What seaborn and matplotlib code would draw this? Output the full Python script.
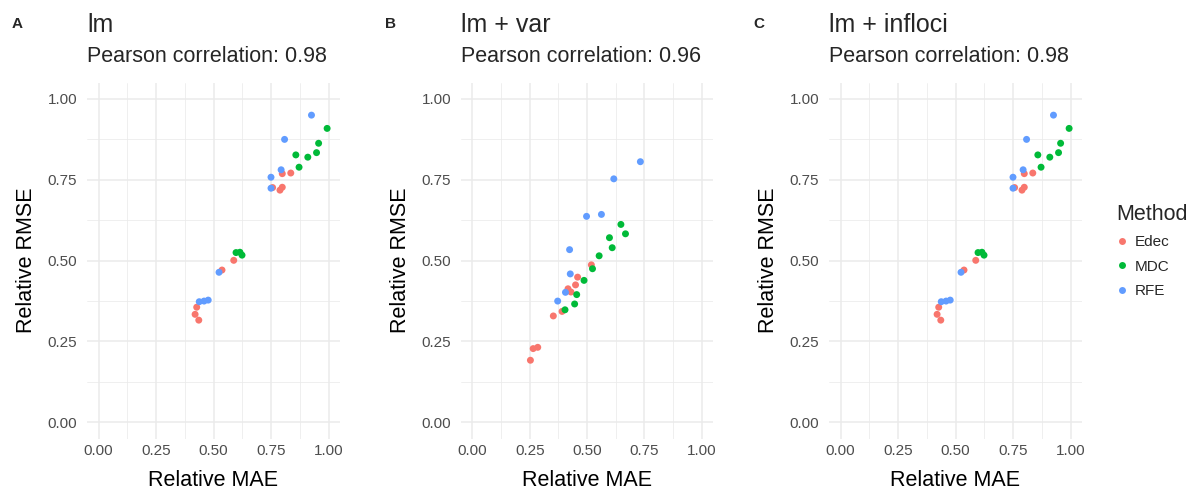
import matplotlib
matplotlib.use("Agg")
import matplotlib.pyplot as plt
import seaborn as sns
import pandas as pd
from matplotlib.ticker import FixedLocator

# ---------------- data ----------------
methods = ["Edec", "MDC", "RFE"]
palette = ["#F8766D", "#00BA38", "#619CFF"]

panel_tags = ["A", "B", "C"]
panel_titles = ["lm", "lm + var", "lm + infloci"]
panel_subtitles = ["Pearson correlation: 0.98", "Pearson correlation: 0.96", "Pearson correlation: 0.98"]

# lm
lm_method = ["Edec"] * 10 + ["MDC"] * 9 + ["RFE"] * 9
lm_mae = [0.799, 0.836, 0.757, 0.799, 0.789, 0.588, 0.537, 0.427, 0.420, 0.436,
          0.994, 0.957, 0.858, 0.910, 0.948, 0.872, 0.598, 0.615, 0.624,
          0.926, 0.809, 0.794, 0.750, 0.750, 0.524, 0.438, 0.459, 0.477]
lm_rmse = [0.769, 0.771, 0.726, 0.727, 0.718, 0.501, 0.471, 0.356, 0.334, 0.316,
           0.909, 0.863, 0.827, 0.820, 0.834, 0.789, 0.525, 0.526, 0.517,
           0.950, 0.875, 0.781, 0.758, 0.724, 0.464, 0.373, 0.375, 0.378]

# lm + var
var_method = ["Edec"] * 10 + ["MDC"] * 10 + ["RFE"] * 8
var_mae = [0.519, 0.459, 0.450, 0.417, 0.430, 0.391, 0.353, 0.265, 0.285, 0.253,
           0.648, 0.668, 0.598, 0.610, 0.553, 0.524, 0.487, 0.455, 0.446, 0.404,
           0.733, 0.617, 0.563, 0.498, 0.424, 0.427, 0.406, 0.372]
var_rmse = [0.487, 0.449, 0.425, 0.413, 0.403, 0.343, 0.329, 0.228, 0.232, 0.192,
            0.612, 0.583, 0.571, 0.540, 0.515, 0.475, 0.439, 0.395, 0.366, 0.348,
            0.806, 0.753, 0.643, 0.637, 0.534, 0.459, 0.402, 0.375]

# lm + infloci
inf_method = ["Edec"] * 10 + ["MDC"] * 9 + ["RFE"] * 9
inf_mae = [0.799, 0.836, 0.757, 0.799, 0.789, 0.588, 0.537, 0.427, 0.420, 0.436,
           0.994, 0.957, 0.858, 0.910, 0.948, 0.872, 0.598, 0.615, 0.624,
           0.926, 0.809, 0.794, 0.750, 0.750, 0.524, 0.438, 0.459, 0.477]
inf_rmse = [0.769, 0.771, 0.726, 0.727, 0.718, 0.501, 0.471, 0.356, 0.334, 0.316,
            0.909, 0.863, 0.827, 0.820, 0.834, 0.789, 0.525, 0.526, 0.517,
            0.950, 0.875, 0.781, 0.758, 0.724, 0.464, 0.373, 0.375, 0.378]

tick_values = [0.0, 0.25, 0.5, 0.75, 1.0]
tick_labels = ["0.00", "0.25", "0.50", "0.75", "1.00"]
minor_values = [0.125, 0.375, 0.625, 0.875]

# ---------------- style ----------------
sns.set_theme(style="white")
plt.rcParams["font.family"] = ["Liberation Sans", "DejaVu Sans"]

W, H = 1200, 492
fig = plt.figure(figsize=(W / 100, H / 100), dpi=100)

panel_px = [(87, 340), (461, 713), (829, 1082)]
top_px, bot_px = 82.8, 438.5

datasets = [
    pd.DataFrame({"mae": lm_mae, "rmse": lm_rmse, "Method": lm_method}),
    pd.DataFrame({"mae": var_mae, "rmse": var_rmse, "Method": var_method}),
    pd.DataFrame({"mae": inf_mae, "rmse": inf_rmse, "Method": inf_method}),
]

grid_col = "#EBEBEB"
axes = []
for i, (df, (l, r)) in enumerate(zip(datasets, panel_px)):
    ax = fig.add_axes([l / W, 1 - bot_px / H, (r - l) / W, (bot_px - top_px) / H])
    axes.append(ax)
    sns.scatterplot(data=df, x="mae", y="rmse", hue="Method", hue_order=methods,
                    palette=palette, s=25, linewidth=0, ax=ax, legend=(i == 2), zorder=3)
    ax.set_xlim(-0.05, 1.05)
    ax.set_ylim(-0.05, 1.05)
    ax.set_xticks(tick_values)
    ax.set_xticklabels(tick_labels)
    ax.set_yticks(tick_values)
    ax.set_yticklabels(tick_labels)
    ax.xaxis.set_minor_locator(FixedLocator(minor_values))
    ax.yaxis.set_minor_locator(FixedLocator(minor_values))
    ax.grid(True, which="major", color=grid_col, linewidth=1.1, zorder=0)
    ax.grid(True, which="minor", color=grid_col, linewidth=0.55, zorder=0)
    ax.set_axisbelow(True)
    for sp in ax.spines.values():
        sp.set_visible(False)
    ax.tick_params(axis="both", which="both", length=0, labelsize=11, labelcolor="#4D4D4D")
    ax.tick_params(axis="x", pad=4)
    ax.tick_params(axis="y", pad=7)
    ax.set_facecolor("white")

    ax.set_xlabel("Relative MAE", fontsize=15.5, color="black")
    ax.xaxis.label.set_va("center")
    ax.xaxis.set_label_coords(0.5, (bot_px - 481) / (bot_px - top_px))
    ax.set_ylabel("Relative RMSE", fontsize=15.5, color="black")
    ax.yaxis.label.set_va("center")
    ax.yaxis.label.set_ha("center")
    ax.yaxis.set_label_coords((27 - 87) / (r - l), 0.5)

    fig.text(l / W, 1 - 32.5 / H, panel_titles[i], fontsize=18, ha="left", va="baseline")
    fig.text(l / W, 1 - 62.5 / H, panel_subtitles[i], fontsize=15.5, ha="left", va="baseline")
    fig.text((l - 70) / W, 1 - 28.5 / H, panel_tags[i], fontsize=11, fontweight="bold",
             ha="center", va="baseline")

# legend
handles, labels = axes[2].get_legend_handles_labels()
axes[2].get_legend().remove()
leg = fig.legend(handles, labels, title="Method", loc="upper left",
                 bbox_to_anchor=(1116 / W, 1 - 204 / H), frameon=False,
                 fontsize=11, title_fontsize=15.5, handlelength=0.8,
                 handletextpad=0.45, labelspacing=0.68, borderpad=0,
                 borderaxespad=0, alignment="left", markerscale=1.0)

fig.savefig("out.png", dpi=100, facecolor="white")
